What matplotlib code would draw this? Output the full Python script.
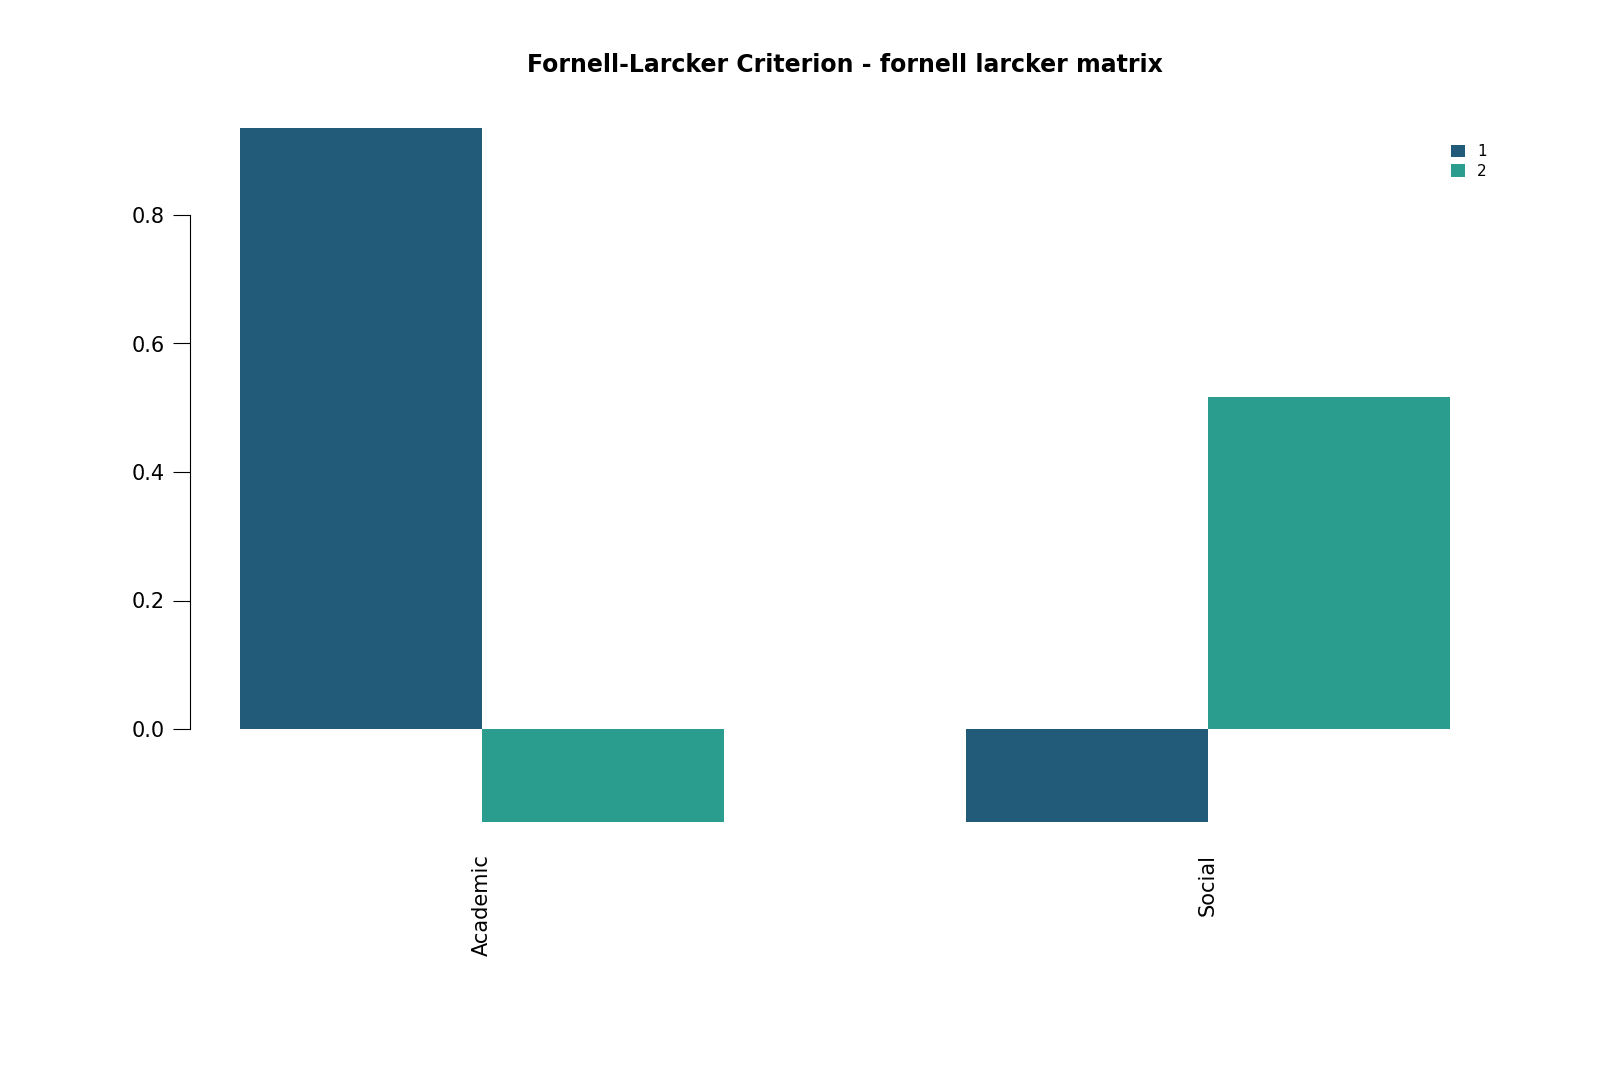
import matplotlib.pyplot as plt
import numpy as np

categories = ['Academic', 'Social']
series_names = ['1', '2']
values_1 = [0.935, -0.145]
values_2 = [-0.145, 0.517]
colors = ['#225B7A', '#2A9D8F']

fig = plt.figure(figsize=(16, 10.67), dpi=100)
W, H = 1600, 1067
top_px, bot_px = 100, 850
ax = fig.add_axes([0, 1 - bot_px / H, 1, (bot_px - top_px) / H])
ppu_x = 242.0
x0 = 1 - 240 / ppu_x
ax.set_xlim(x0, x0 + W / ppu_x)
ppu_y = 642.5
ax.set_ylim(-(bot_px - 729) / ppu_y, (729 - top_px) / ppu_y)

# R barplot beside=TRUE layout
left1 = np.array([1, 4])
ax.bar(left1, values_1, width=1, align='edge', color=colors[0], label=series_names[0])
ax.bar(left1 + 1, values_2, width=1, align='edge', color=colors[1], label=series_names[1])

for s in ['top', 'right', 'bottom']:
    ax.spines[s].set_visible(False)
ax.spines['left'].set_position(('data', x0 + 190 / ppu_x))
ax.spines['left'].set_bounds(0, 0.8)
ax.set_yticks([0, 0.2, 0.4, 0.6, 0.8])
ax.set_yticklabels(['0.0', '0.2', '0.4', '0.6', '0.8'])
ax.tick_params(axis='y', length=12, labelsize=15, pad=6)
ax.set_xticks([])

for xc, name in zip(left1 + 1, categories):
    ax.text(xc, -0.195, name, rotation=90, ha='center', va='top', fontsize=15, clip_on=False)

fig.text(845 / W, 1 - 65 / H, 'Fornell-Larcker Criterion - fornell larcker matrix',
         ha='center', va='center', fontsize=17, fontweight='bold')

ax.legend(loc='upper left', bbox_to_anchor=(1445 / W, 1 - 138 / (bot_px - top_px) * 0 - (138 - top_px) / (bot_px - top_px)),
          frameon=False, fontsize=11, handlelength=0.9, handleheight=0.9,
          handletextpad=0.8, labelspacing=0.3, borderaxespad=0)

fig.savefig('out.png', dpi=100)
